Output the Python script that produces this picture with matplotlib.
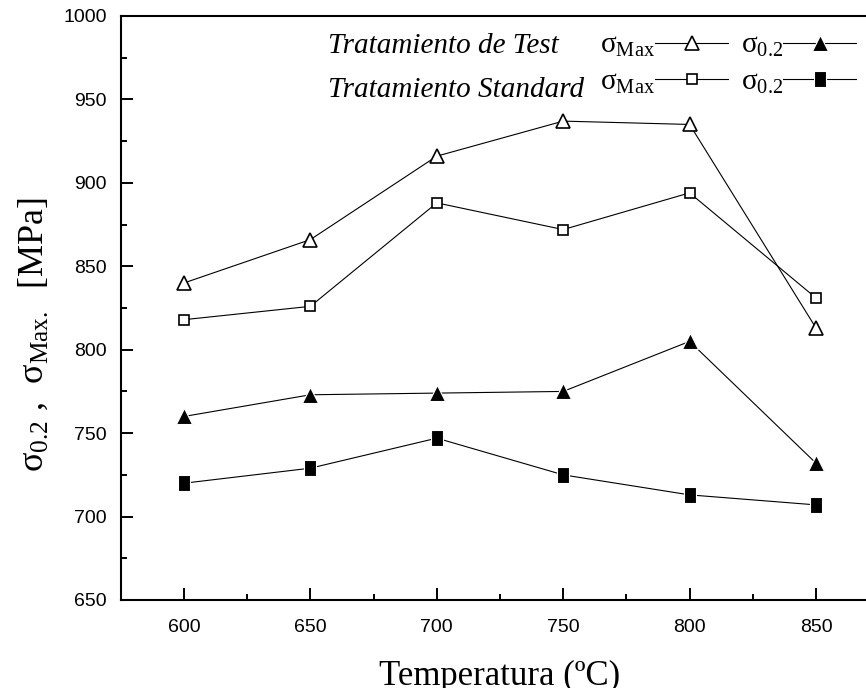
import numpy as np
import matplotlib
matplotlib.use("Agg")
import matplotlib.pyplot as plt
from matplotlib.ticker import MultipleLocator

# Fonts: Times-like serif for labels, Arial-like sans for ticks
plt.rcParams['font.family'] = 'Liberation Sans'
plt.rcParams['mathtext.fontset'] = 'custom'
plt.rcParams['mathtext.rm'] = 'Liberation Serif'
plt.rcParams['mathtext.it'] = 'Liberation Serif:italic'

# Data
temperatura = [600, 650, 700, 750, 800, 850]
test_max = [840, 866, 916, 937, 935, 813]
test_02 = [760, 773, 774, 775, 805, 732]
std_max = [818, 826, 888, 872, 894, 831]
std_02 = [720, 729, 747, 725, 713, 707]

# narrow upright rectangle for the filled squares
rect = [(-0.38, -0.5), (0.38, -0.5), (0.38, 0.5), (-0.38, 0.5), (-0.38, -0.5)]

fig = plt.figure(figsize=(8.66, 6.88), dpi=100)
# right edge of the box runs past the picture, as in the original
ax = fig.add_axes([120.8 / 866, 88 / 688, 758.4 / 866, 584 / 688])

line_kw = dict(color='black', linewidth=0.8)
h1, = ax.plot(temperatura, test_max, marker='^', markersize=10, mfc='white',
              mec='black', mew=1.2, **line_kw)
h2, = ax.plot(temperatura, test_02, marker='^', markersize=11, mfc='black',
              mec='white', mew=0.8, **line_kw)
h3, = ax.plot(temperatura, std_max, marker='s', markersize=7.5, mfc='white',
              mec='black', mew=1.2, **line_kw)
h4, = ax.plot(temperatura, std_02, marker=rect, markersize=11, mfc='black',
              mec='white', mew=0.8, **line_kw)

ax.set_xlim(575, 875)
ax.set_ylim(650, 1000)
ax.xaxis.set_major_locator(MultipleLocator(50))
ax.xaxis.set_minor_locator(MultipleLocator(25))
ax.yaxis.set_major_locator(MultipleLocator(50))
ax.yaxis.set_minor_locator(MultipleLocator(25))
ax.tick_params(which='both', direction='in', width=1.4, labelsize=14,
               top=False, right=False)
ax.tick_params(which='major', length=8.6)
ax.tick_params(which='minor', length=4.6)
ax.tick_params(axis='x', which='major', pad=14)
ax.tick_params(axis='y', which='major', pad=10)
for s in ax.spines.values():
    s.set_linewidth(1.5)

ax.set_xlabel('Temperatura (ºC)', fontsize=25, family='Liberation Serif',
              labelpad=17)
ax.set_ylabel(r'$\mathrm{σ}_{0.2}$ ,  $\mathrm{σ}_{\mathrm{Max.}}$  [MPa]',
              fontsize=26, family='Liberation Serif')
ax.yaxis.set_label_coords(-0.093, 0.455)

# legend: row titles as text, entries as a two-column legend
ax.text(0.2732, 0.9366, 'Tratamiento de Test', transform=ax.transAxes,
        fontsize=21, style='italic', family='Liberation Serif', va='baseline')
ax.text(0.2732, 0.8613, 'Tratamiento Standard', transform=ax.transAxes,
        fontsize=21, style='italic', family='Liberation Serif', va='baseline')

leg = ax.legend([h1, h3, h2, h4],
                [r'$\mathrm{σ}_{\mathrm{Max}}$', r'$\mathrm{σ}_{\mathrm{Max}}$',
                 r'$\mathrm{σ}_{0.2}$', r'$\mathrm{σ}_{0.2}$'],
                ncol=2, markerfirst=False, frameon=False, fontsize=21,
                loc='center left', bbox_to_anchor=(0.632, 0.919),
                borderpad=0, borderaxespad=0, handlelength=2.5,
                handletextpad=0.0, columnspacing=0.45, labelspacing=0.3,
                numpoints=1)

fig.savefig('out.png', dpi=100)
